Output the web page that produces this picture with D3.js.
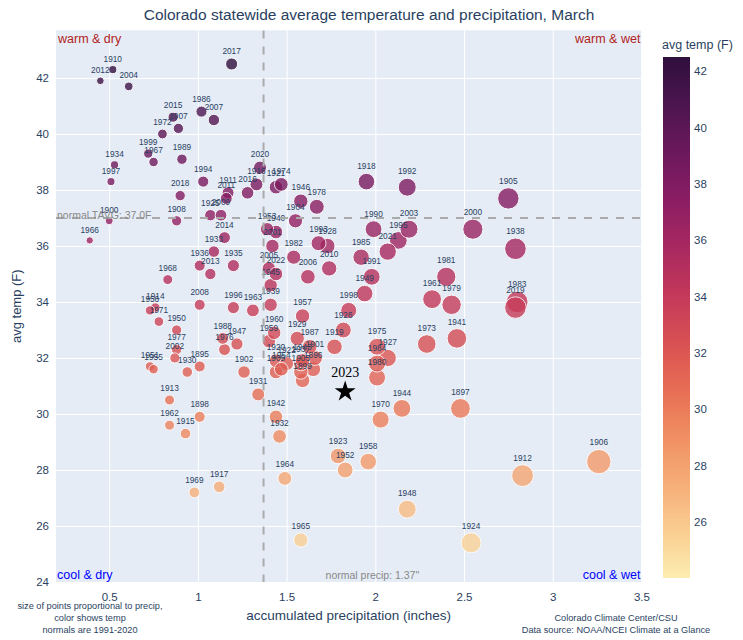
<!DOCTYPE html>
<html>
<head>
<meta charset="utf-8">
<script src="https://cdn.jsdelivr.net/npm/d3@7"></script>
<style>
  body { margin: 0; background: #fff; }
  svg { font-family: "Liberation Sans", Arial, sans-serif; }
</style>
</head>
<body>
<svg id="chart" width="743" height="640"></svg>
<script>
// March values, one entry per year
const years = [
  1895, 1896, 1897, 1898, 1899, 1900, 1901, 1902, 1903, 1904,
  1905, 1906, 1907, 1908, 1909, 1910, 1911, 1912, 1913, 1914,
  1915, 1916, 1917, 1918, 1919, 1920, 1921, 1922, 1923, 1924,
  1925, 1926, 1927, 1928, 1929, 1930, 1931, 1932, 1933, 1934,
  1935, 1936, 1937, 1938, 1939, 1940, 1941, 1942, 1943, 1944,
  1945, 1946, 1947, 1948, 1949, 1950, 1951, 1952, 1953, 1954,
  1955, 1956, 1957, 1958, 1959, 1960, 1961, 1962, 1963, 1964,
  1965, 1966, 1967, 1968, 1969, 1970, 1971, 1972, 1973, 1974,
  1975, 1976, 1977, 1978, 1979, 1980, 1981, 1982, 1983, 1984,
  1985, 1986, 1987, 1988, 1989, 1990, 1991, 1992, 1993, 1994,
  1995, 1996, 1997, 1998, 1999, 2000, 2001, 2002, 2003, 2004,
  2005, 2006, 2007, 2008, 2009, 2010, 2011, 2012, 2013, 2014,
  2015, 2016, 2017, 2018, 2019, 2020, 2021, 2022, 2023
]
const precip = [
  1.01, 1.65, 2.48, 1.01, 1.59, 0.50, 1.66, 1.26, 1.58, 1.55,
  2.75, 3.26, 0.89, 0.88, 1.44, 0.52, 1.17, 2.83, 0.84, 0.76,
  0.93, 1.33, 1.12, 1.95, 1.77, 1.44, 1.44, 1.50, 1.79, 2.54,
  1.07, 1.82, 2.07, 1.73, 1.56, 0.94, 1.34, 1.46, 1.09, 0.53,
  1.20, 1.01, 1.58, 2.79, 1.41, 1.44, 2.46, 1.44, 1.59, 2.15,
  1.41, 1.58, 1.22, 2.18, 1.94, 0.88, 0.73, 1.83, 1.39, 1.47,
  0.75, 0.73, 1.59, 1.96, 1.40, 1.43, 2.32, 0.84, 1.31, 1.49,
  1.58, 0.39, 0.75, 0.83, 0.98, 2.03, 0.78, 0.80, 2.29, 1.47,
  2.01, 1.15, 0.88, 1.67, 2.43, 2.01, 2.40, 1.54, 2.80, 2.01,
  1.92, 1.02, 1.63, 1.14, 0.91, 1.99, 1.98, 2.18, 1.68, 1.03,
  2.13, 1.20, 0.51, 1.85, 0.72, 2.55, 1.42, 0.87, 2.19, 0.61,
  1.40, 1.62, 1.09, 1.01, 1.13, 1.74, 1.16, 0.45, 1.07, 1.15,
  0.86, 1.28, 1.19, 0.90, 2.79, 1.35, 2.07, 1.44, 1.83
]
const avgTemp = [
  31.7, 31.6, 30.2, 29.9, 31.2, 36.9, 32.0, 31.5, 31.5, 36.9,
  37.7, 28.3, 40.2, 36.9, 31.5, 42.3, 37.9, 27.8, 30.5, 33.8,
  29.3, 38.2, 27.4, 38.3, 32.4, 31.9, 38.1, 31.8, 28.5, 25.4,
  37.1, 33.0, 32.0, 36.0, 32.7, 31.5, 30.7, 29.2, 35.8, 38.9,
  35.3, 35.3, 31.8, 35.9, 33.9, 36.5, 32.7, 29.9, 31.9, 30.2,
  34.6, 37.6, 32.5, 26.6, 34.3, 33.0, 31.7, 28.0, 36.6, 31.6,
  31.6, 33.7, 33.5, 28.3, 32.6, 32.9, 34.1, 29.6, 33.7, 27.7,
  25.5, 36.2, 39.0, 34.8, 27.2, 29.8, 33.3, 40.0, 32.5, 38.2,
  32.4, 32.3, 32.3, 37.4, 33.9, 31.3, 34.9, 35.6, 34.0, 31.8,
  35.6, 40.8, 32.4, 32.7, 39.1, 36.6, 34.9, 38.1, 36.1, 38.3,
  36.2, 33.8, 38.3, 33.7, 39.3, 36.6, 36.0, 32.0, 36.6, 41.7,
  35.2, 34.9, 40.5, 33.9, 37.1, 35.2, 37.7, 41.9, 35.0, 36.3,
  40.6, 37.9, 42.5, 37.8, 33.8, 38.8, 35.8, 35.0, 30.8
]
const highlightYear = 2023
const normalPrecip = 1.37
const normalTemp = 37.0

const xTicks = [0.5, 1, 1.5, 2, 2.5, 3, 3.5]
const yTicks = [24, 26, 28, 30, 32, 34, 36, 38, 40, 42]
const colorTicks = [26, 28, 30, 32, 34, 36, 38, 40, 42]
// cmocean "matter", light to dark
const matterColors = ["#fdedb0", "#facd91", "#f6ad77", "#f08e62", "#e76d54", "#d85053",
  "#c3385a", "#a82860", "#8a1d63", "#6b185d", "#4c1550", "#2f0f3d"]

const textColor = "#2a3f5f"
const svg = d3.select("#chart")

const plotLeft = 56, plotRight = 641.4, plotTop = 30.4, plotBottom = 582

const x = d3.scaleLinear().domain([0.2, 3.5]).range([plotLeft, plotRight])
const y = d3.scaleLinear().domain([24, 43.7]).range([plotBottom, plotTop])
const r = d3.scaleLinear().domain([0, d3.max(precip)]).range([2.5, 12.2])
const color = d3.scaleSequential()
  .domain([24, d3.max(avgTemp)])
  .interpolator(d3.piecewise(d3.interpolateRgb, matterColors))

const points = years.map((year, i) => ({ year, precip: precip[i], temp: avgTemp[i] }))
const regular = points.filter(d => d.year !== highlightYear)
const highlight = points.find(d => d.year === highlightYear)

// plot background
svg.append("rect")
  .attr("x", plotLeft).attr("y", plotTop)
  .attr("width", plotRight - plotLeft).attr("height", plotBottom - plotTop)
  .attr("fill", "#e5ecf6")

// axes + grid
const xAxis = svg.append("g")
  .attr("transform", `translate(0,${plotBottom})`)
  .call(d3.axisBottom(x).tickValues(xTicks).tickFormat(d3.format("")).tickSize(-(plotBottom - plotTop)).tickPadding(11))
xAxis.select(".domain").remove()
xAxis.selectAll("line").attr("stroke", "#fff").attr("stroke-width", 1)
xAxis.selectAll("text").attr("fill", textColor).attr("font-size", 11.5)

const yAxis = svg.append("g")
  .attr("transform", `translate(${plotLeft},0)`)
  .call(d3.axisLeft(y).tickValues(yTicks).tickSize(-(plotRight - plotLeft)).tickPadding(7))
yAxis.select(".domain").remove()
yAxis.selectAll("line").attr("stroke", "#fff").attr("stroke-width", 1)
yAxis.selectAll("text").attr("fill", textColor).attr("font-size", 11.5)

// points
svg.append("g")
  .selectAll("circle")
  .data(regular)
  .join("circle")
  .attr("cx", d => x(d.precip))
  .attr("cy", d => y(d.temp))
  .attr("r", d => r(d.precip))
  .attr("fill", d => color(d.temp))
  .attr("stroke", "#fff")
  .attr("stroke-width", 1)
  .attr("opacity", 0.8)

svg.append("g")
  .selectAll("text")
  .data(regular)
  .join("text")
  .attr("x", d => x(d.precip))
  .attr("y", d => y(d.temp) - r(d.precip) - 4)
  .attr("text-anchor", "middle")
  .attr("font-size", 8.3)
  .attr("fill", textColor)
  .text(d => d.year)

// normals
const dashed = svg.append("g")
  .attr("stroke", "#aaaaaa")
  .attr("stroke-width", 2)
  .attr("stroke-dasharray", "8,8")
dashed.append("line")
  .attr("x1", x(normalPrecip)).attr("x2", x(normalPrecip))
  .attr("y1", plotTop).attr("y2", plotBottom)
dashed.append("line")
  .attr("x1", plotLeft).attr("x2", plotRight)
  .attr("y1", y(normalTemp)).attr("y2", y(normalTemp))

svg.append("text")
  .attr("x", plotLeft + 1).attr("y", y(normalTemp) + 1)
  .attr("font-size", 10.5).attr("fill", "#888")
  .text(`normal TAVG: ${normalTemp.toFixed(1)}F`)
svg.append("text")
  .attr("x", x(normalPrecip) + 62).attr("y", plotBottom - 3)
  .attr("font-size", 10.5).attr("fill", "#888")
  .text(`normal precip: ${normalPrecip}"`)

// this year
svg.append("path")
  .attr("d", d3.symbol(d3.symbolStar, 136)())
  .attr("transform", `translate(${x(highlight.precip)},${y(highlight.temp)})`)
  .attr("fill", "#000")
svg.append("text")
  .attr("x", x(highlight.precip)).attr("y", y(highlight.temp) - 15)
  .attr("text-anchor", "middle")
  .attr("font-family", "'Liberation Serif', 'Times New Roman', serif")
  .attr("font-size", 14)
  .attr("fill", "#000")
  .text(highlight.year)

// quadrant labels
const quad = [
  { text: "warm & dry", x: plotLeft + 2, y: plotTop + 13, anchor: "start", fill: "#b22222" },
  { text: "warm & wet", x: plotRight - 1, y: plotTop + 13, anchor: "end", fill: "#b22222" },
  { text: "cool & dry", x: plotLeft + 1, y: plotBottom - 3, anchor: "start", fill: "#0000ff" },
  { text: "cool & wet", x: plotRight - 1, y: plotBottom - 3, anchor: "end", fill: "#0000ff" }
]
svg.append("g")
  .selectAll("text")
  .data(quad)
  .join("text")
  .attr("x", d => d.x).attr("y", d => d.y)
  .attr("text-anchor", d => d.anchor)
  .attr("font-size", 12.5)
  .attr("fill", d => d.fill)
  .text(d => d.text)

// colorbar
const barX = 663, barW = 27, barTop = 57, barBottom = 578
const cScale = d3.scaleLinear().domain(color.domain()).range([barBottom, barTop])
const grad = svg.append("defs").append("linearGradient")
  .attr("id", "matter").attr("x1", 0).attr("y1", 1).attr("x2", 0).attr("y2", 0)
grad.selectAll("stop")
  .data(matterColors)
  .join("stop")
  .attr("offset", (d, i) => i / (matterColors.length - 1))
  .attr("stop-color", d => d)
svg.append("rect")
  .attr("x", barX).attr("y", barTop)
  .attr("width", barW).attr("height", barBottom - barTop)
  .attr("fill", "url(#matter)")
const cAxis = svg.append("g")
  .attr("transform", `translate(${barX + barW},0)`)
  .call(d3.axisRight(cScale).tickValues(colorTicks).tickSize(0).tickPadding(4))
cAxis.select(".domain").remove()
cAxis.selectAll("text").attr("fill", textColor).attr("font-size", 11.5)
svg.append("text")
  .attr("x", barX - 1).attr("y", 49)
  .attr("font-size", 12.5).attr("fill", textColor)
  .text("avg temp (F)")

// titles
svg.append("text")
  .attr("x", 369).attr("y", 20)
  .attr("text-anchor", "middle")
  .attr("font-size", 15.5).attr("fill", textColor)
  .text("Colorado statewide average temperature and precipitation, March")
svg.append("text")
  .attr("x", (plotLeft + plotRight) / 2).attr("y", 620)
  .attr("text-anchor", "middle")
  .attr("font-size", 13.5).attr("fill", textColor)
  .text("accumulated precipitation (inches)")
svg.append("text")
  .attr("transform", `translate(21,${(plotTop + plotBottom) / 2}) rotate(-90)`)
  .attr("text-anchor", "middle")
  .attr("font-size", 13).attr("fill", textColor)
  .text("avg temp (F)")

// notes
const notes = svg.append("g").attr("font-size", 9.2).attr("fill", textColor).attr("text-anchor", "middle")
;["size of points proportional to precip,", "color shows temp", "normals are 1991-2020"]
  .forEach((t, i) => notes.append("text").attr("x", 90).attr("y", 608.5 + i * 12.3).text(t))
;["Colorado Climate Center/CSU", "Data source: NOAA/NCEI Climate at a Glance"]
  .forEach((t, i) => notes.append("text").attr("x", 616).attr("y", 621 + i * 12.3).text(t))
</script>
</body>
</html>
